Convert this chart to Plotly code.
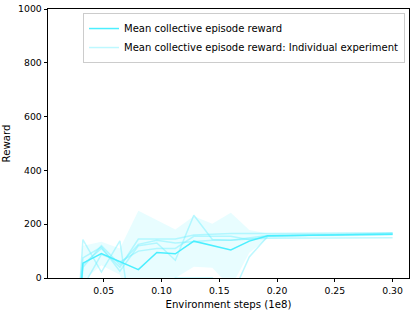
import plotly.graph_objects as go

# ---- data ----
steps = [0.016, 0.032, 0.048, 0.064, 0.080, 0.096, 0.112, 0.128, 0.144, 0.160, 0.176, 0.192, 0.30]

mean_reward = [-860, 55, 91, 61, 31, 95, 90, 137, 120, 104, 137, 157, 163]
band_upper = [-600, 120, 135, 110, 250, 215, 180, 230, 202, 243, 178, 165, 168]
band_lower = [-1100, -10, 47, 12, -190, -25, 0, 42, 38, -35, 94, 148, 158]

exp_1 = [-900, 143, 22, 138, -335, -50, 0, 0, 0, -75, 78, 155, 165]
exp_2 = [-700, 75, 115, 25, 120, 130, 66, 233, 143, 140, 145, 148, 150]
exp_3 = [-800, 50, 110, 40, 145, 145, 145, 160, 163, 165, 165, 165, 168]
exp_4 = [-900, 40, 120, 50, 125, 140, 130, 135, 140, 140, 150, 158, 162]
exp_5 = [-1000, -33, 88, 60, 100, 110, 110, 155, 155, 155, 142, 155, 166]
experiments = [exp_1, exp_2, exp_3, exp_4, exp_5]

x_ticks = [0.05, 0.10, 0.15, 0.20, 0.25, 0.30]
y_ticks = [0, 200, 400, 600, 800, 1000]

MEAN_COLOR = "#4CEFFF"
EXP_COLOR = "rgba(110,240,255,0.45)"
BAND_COLOR = "rgba(140,245,255,0.2)"
FONT = "DejaVu Sans"

fig = go.Figure()

# shaded band
fig.add_trace(go.Scatter(x=steps, y=band_upper, mode="lines", line=dict(width=0),
                         showlegend=False, hoverinfo="skip"))
fig.add_trace(go.Scatter(x=steps, y=band_lower, mode="lines", line=dict(width=0),
                         fill="tonexty", fillcolor=BAND_COLOR,
                         showlegend=False, hoverinfo="skip"))

for i, e in enumerate(experiments):
    fig.add_trace(go.Scatter(
        x=steps, y=e, mode="lines",
        line=dict(color=EXP_COLOR, width=1.5),
        name="Mean collective episode reward: Individual experiment",
        showlegend=(i == 0), legendrank=2))

fig.add_trace(go.Scatter(
    x=steps, y=mean_reward, mode="lines",
    line=dict(color=MEAN_COLOR, width=1.5),
    name="Mean collective episode reward", legendrank=1))

axis_common = dict(
    showline=True, linecolor="black", linewidth=0.8, mirror=True,
    ticks="outside", ticklen=3.5, tickwidth=0.8, tickcolor="black",
    showgrid=False, zeroline=False, automargin=False,
    tickfont=dict(family=FONT, size=9.3, color="black"),
)

fig.update_layout(
    width=416, height=312,
    margin=dict(l=48, r=7, t=9, b=34),
    paper_bgcolor="white", plot_bgcolor="white",
    font=dict(family=FONT, size=10, color="black"),
    xaxis=dict(range=[0.0018, 0.3142], tickvals=x_ticks,
               ticktext=[f"{v:.2f}" for v in x_ticks],
               title=dict(text="Environment steps (1e8)", font=dict(family=FONT, size=10.2), standoff=6),
               **axis_common),
    yaxis=dict(range=[0, 1000], tickvals=y_ticks,
               title=dict(text="Reward", font=dict(family=FONT, size=10.2), standoff=5),
               **axis_common),
    legend=dict(x=0.989, y=0.985, xanchor="right", yanchor="top", traceorder="normal",
                bgcolor="rgba(255,255,255,0.8)", bordercolor="#cccccc", borderwidth=1,
                font=dict(family=FONT, size=10), itemwidth=30, tracegroupgap=0),
    showlegend=True,
)

fig.write_html("out.html", config={"displayModeBar": False},
               post_script="document.body.style.margin='0';document.body.style.overflow='hidden';")
